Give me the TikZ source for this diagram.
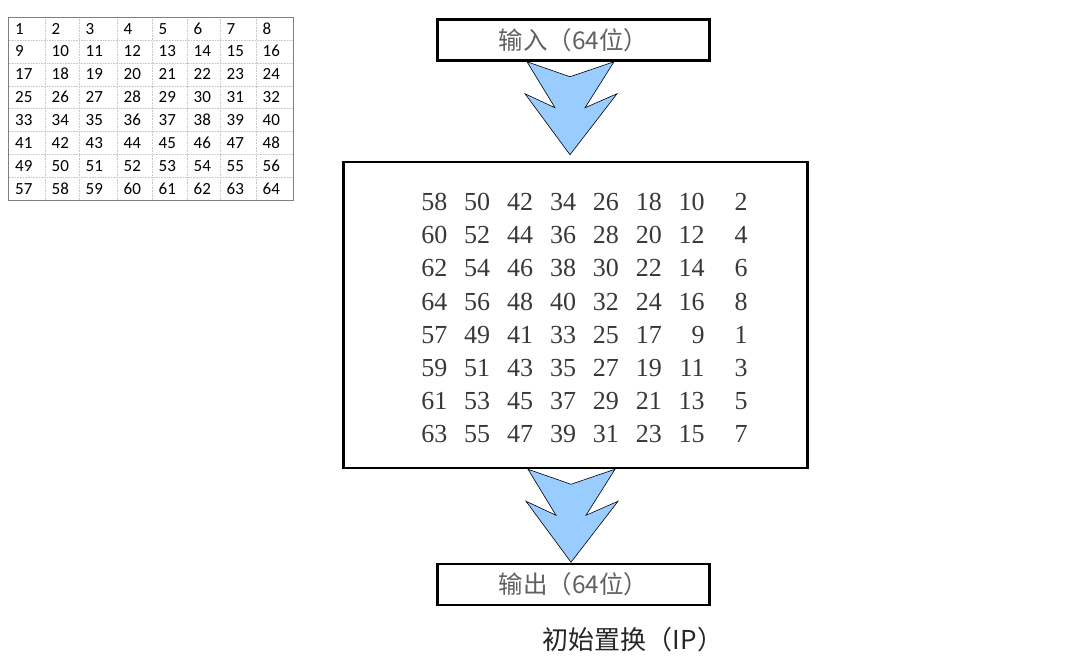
\documentclass[tikz,border=0pt]{standalone}
\usepackage{fontspec}
\setmainfont{Liberation Serif}
\newfontfamily\cjk{Noto Sans CJK SC}
\newfontfamily\tabfont[Numbers={Lining,Monospaced}]{Carlito}
\usetikzlibrary{calc}
\definecolor{arrowblue}{HTML}{99CCFF}
\definecolor{gridgray}{HTML}{C8C8C8}
\definecolor{bordergray}{HTML}{808080}
\begin{document}
\begin{tikzpicture}[x=1pt,y=-1pt,
  iobox/.style={draw=black,line width=2.5pt,inner sep=0pt,minimum width=272pt,minimum height=41pt,
    font=\cjk\fontsize{24.5}{24.5}\selectfont,text=black!62},
  mainbox/.style={draw=black,line width=2.5pt,inner sep=0pt,minimum width=464pt,minimum height=306pt},
  blockarrow/.style={draw=black,line width=0.6pt,fill=arrowblue,line join=miter},
  ipnum/.style={anchor=base east,inner sep=0pt,font=\fontsize{26}{26}\selectfont,text=black!78},
  tabnum/.style={anchor=base west,inner sep=0pt,font=\tabfont\fontsize{17}{17}\selectfont,text=black},
  caption/.style={font=\cjk\fontsize{26}{26}\selectfont,text=black!85}]
\useasboundingbox (0,0) rectangle (1083,662);

% ---- small reference table ----
\def\colx{{8.5,45,79,117,152,187,220,256,293.5}}
\foreach \j in {1,...,7} {
  \pgfmathsetmacro\xx{\colx[\j]}
  \draw[gridgray,densely dotted,line width=0.6pt] (\xx,17) -- (\xx,200.5);
}
\foreach \i in {1,...,7} {
  \draw[gridgray,densely dotted,line width=0.6pt] (8.5,17+22.94*\i) -- (293.5,17+22.94*\i);
}
\draw[bordergray,line width=0.8pt] (8.5,17) rectangle (293.5,200.5);
\foreach \i in {0,...,7} {
  \foreach \j in {0,...,7} {
    \pgfmathsetmacro\xx{\colx[\j]+6.5}
    \pgfmathtruncatemacro\v{8*\i+\j+1}
    \node[tabnum] (t-\i-\j) at (\xx,34+22.94*\i) {\v};
  }
}

% ---- boxes ----
\node[iobox] (inbox) at (573.5,40) {输入（64位）};
\node[mainbox] (ipbox) at (575.5,315) {};
\node[iobox] (outbox) at (573.5,584.5) {输出（64位）};
\node[caption] (cap) at (633,640) {初始置换（IP）};

% ---- IP matrix ----
\def\ipval{{58,50,42,34,26,18,10,2,60,52,44,36,28,20,12,4,62,54,46,38,30,22,14,6,64,56,48,40,32,24,16,8,57,49,41,33,25,17,9,1,59,51,43,35,27,19,11,3,61,53,45,37,29,21,13,5,63,55,47,39,31,23,15,7}}
\foreach \i in {0,...,7} {
  \foreach \j in {0,...,7} {
    \pgfmathtruncatemacro\v{\ipval[8*\i+\j]}
    \node[ipnum] (m-\i-\j) at (447.5+42.9*\j,210.5+33.2*\i) {\v};
  }
}

% ---- block arrows ----
\coordinate (a1) at ($(inbox.south)+(-3.5,0)$);
\coordinate (a2) at ($(ipbox.south)+(-4.5,0)$);
\foreach \a in {a1,a2} {
  \begin{scope}[shift={(\a)}]
    \draw[blockarrow] (-43,0) -- (0,15) -- (44,0) -- (15,46) -- (47,32) -- (0,93)
      -- (-45,32) -- (-15,46) -- cycle;
  \end{scope}
}
\end{tikzpicture}
\end{document}
